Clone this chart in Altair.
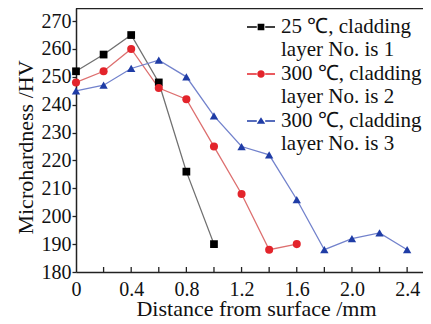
import altair as alt
import pandas as pd

series = [
    "25 ℃, cladding|layer No. is 1",
    "300 ℃, cladding|layer No. is 2",
    "300 ℃, cladding|layer No. is 3",
]
x1 = [0, 0.2, 0.4, 0.6, 0.8, 1.0]
y1 = [252, 258, 265, 248, 216, 190]
x2 = [0, 0.2, 0.4, 0.6, 0.8, 1.0, 1.2, 1.4, 1.6]
y2 = [248, 252, 260, 246, 242, 225, 208, 188, 190]
x3 = [0, 0.2, 0.4, 0.6, 0.8, 1.0, 1.2, 1.4, 1.6, 1.8, 2.0, 2.2, 2.4]
y3 = [245, 247, 253, 256, 250, 236, 225, 222, 206, 188, 192, 194, 188]

marker_colors = ["#000000", "#e3242b", "#1f3ca6"]
line_colors = ["#707070", "#dd6f6f", "#7282cc"]
marker_shapes = ["square", "circle", "triangle-up"]
marker_sizes = [60, 70, 85]

x_label_values = [0, 0.4, 0.8, 1.2, 1.6, 2.0, 2.4]
x_minor_ticks = [0.2, 0.4, 0.6, 0.8, 1.0, 1.2, 1.4, 1.6, 1.8, 2.0, 2.2, 2.4]
y_tick_values = [180, 190, 200, 210, 220, 230, 240, 250, 260, 270]

FONT = "Liberation Serif"

rows = []
for name, xs, ys in zip(series, [x1, x2, x3], [y1, y2, y3]):
    for xv, yv in zip(xs, ys):
        rows.append({"series": name, "x": xv, "y": yv})
df = pd.DataFrame(rows)

xscale = alt.Scale(domain=[0, 2.515], nice=False, zero=False)
yscale = alt.Scale(domain=[180, 274.7], nice=False, zero=False)

xaxis = alt.Axis(
    values=x_label_values,
    labelExpr="datum.value == 0 ? '0' : format(datum.value, '.1f')",
    ticks=False,
    grid=False,
    labelPadding=7,
    labelFontSize=20,
    labelFont=FONT,
    labelColor="#111",
    labelFlush=False,
    labelOverlap=False,
    domainColor="#222",
    domainWidth=1.5,
    title="Distance from surface /mm",
    titleFont=FONT,
    titleFontSize=22,
    titleFontWeight="normal",
    titleColor="#111",
    titleBaseline="alphabetic",
    titleX=180,
    titleY=43,
)
yaxis = alt.Axis(
    values=y_tick_values,
    tickCount=10,
    tickSize=4,
    tickColor="#222",
    tickWidth=1.3,
    grid=False,
    labelPadding=1,
    labelFontSize=20,
    labelFont=FONT,
    labelColor="#111",
    labelFlush=False,
    labelOverlap=False,
    domainColor="#222",
    domainWidth=1.5,
    title="Microhardness /HV",
    titleFont=FONT,
    titleFontSize=22,
    titleFontWeight="normal",
    titleColor="#111",
    titleBaseline="alphabetic",
    titleAngle=270,
    titleX=-44,
    titleY=139,
)

base = alt.Chart(df)

lines = base.mark_line(strokeWidth=1.3).encode(
    x=alt.X("x:Q", scale=xscale, axis=xaxis),
    y=alt.Y("y:Q", scale=yscale, axis=yaxis),
    color=alt.Color("series:N", scale=alt.Scale(domain=series, range=line_colors), legend=None),
    detail="series:N",
)

points = base.mark_point(filled=True, opacity=1).encode(
    x=alt.X("x:Q", scale=xscale, axis=xaxis),
    y=alt.Y("y:Q", scale=yscale, axis=yaxis),
    fill=alt.Fill("series:N", scale=alt.Scale(domain=series, range=marker_colors), legend=None),
    shape=alt.Shape("series:N", scale=alt.Scale(domain=series, range=marker_shapes), legend=None),
    size=alt.Size("series:N", scale=alt.Scale(domain=series, range=marker_sizes), legend=None),
)

# inward minor ticks on the bottom axis
tick_df = pd.DataFrame({"x": x_minor_ticks, "y": [180] * len(x_minor_ticks), "y1": [181.8] * len(x_minor_ticks)})
ticks = alt.Chart(tick_df).mark_rule(color="#222", strokeWidth=1.3).encode(
    x=alt.X("x:Q", scale=xscale, axis=xaxis),
    y=alt.Y("y:Q", scale=yscale, axis=yaxis),
    y2="y1:Q",
)

# top frame line
frame = alt.Chart(pd.DataFrame({"a": [0]})).mark_rule(color="#222", strokeWidth=1.5).encode(
    y=alt.value(0.5)
)

# legend-only layer (no visible data)
legend_paths = [
    "M-1,-0.045H-0.3V0.045H-1Z M0.3,-0.045H1V0.045H0.3Z M-0.24,-0.24H0.24V0.24H-0.24Z",
    "M-1,-0.045H-0.3V0.045H-1Z M0.3,-0.045H1V0.045H0.3Z M-0.27,0A0.27,0.27 0 1,1 0.27,0A0.27,0.27 0 1,1 -0.27,0Z",
    "M-1,-0.045H-0.3V0.045H-1Z M0.3,-0.045H1V0.045H0.3Z M0,-0.27L0.3,0.2L-0.3,0.2Z",
]
leg_df = pd.DataFrame({"lab": series, "x": x1[:3], "y": y1[:3]})
legend_layer = alt.Chart(leg_df).transform_filter("false").mark_point(filled=True, opacity=1).encode(
    x=alt.X("x:Q", scale=xscale, axis=xaxis),
    y=alt.Y("y:Q", scale=yscale, axis=yaxis),
    color=alt.Color(
        "lab:N",
        scale=alt.Scale(domain=series, range=marker_colors),
        legend=alt.Legend(
            title=None,
            orient="none",
            legendX=171,
            legendY=5,
            padding=0,
            labelExpr="split(datum.label, '|')",
            labelFont=FONT,
            labelFontSize=21,
            labelColor="#111",
            labelLimit=300,
            labelOffset=6,
            symbolSize=784,
            symbolStrokeWidth=0,
            symbolOpacity=1,
            rowPadding=0,
        ),
    ),
    shape=alt.Shape("lab:N", scale=alt.Scale(domain=series, range=legend_paths)),
)

chart = alt.layer(lines, points, ticks, frame, legend_layer).resolve_scale(
    color="independent", shape="independent", fill="independent", size="independent"
).properties(
    width=347,
    height=264,
    padding={"left": 68, "top": 0, "right": 0, "bottom": 44},
    autosize=alt.AutoSizeParams(type="none"),
).configure(
    background="white",
    font=FONT,
    style={"guide-label": {"font": FONT}, "guide-title": {"font": FONT}},
).configure_view(
    stroke=None
).configure_axis(
    labelFont=FONT, titleFont=FONT
).configure_legend(
    labelFont=FONT
).configure_text(
    font=FONT
)

chart.save("out.html", embed_options={"renderer": "svg", "actions": False})
